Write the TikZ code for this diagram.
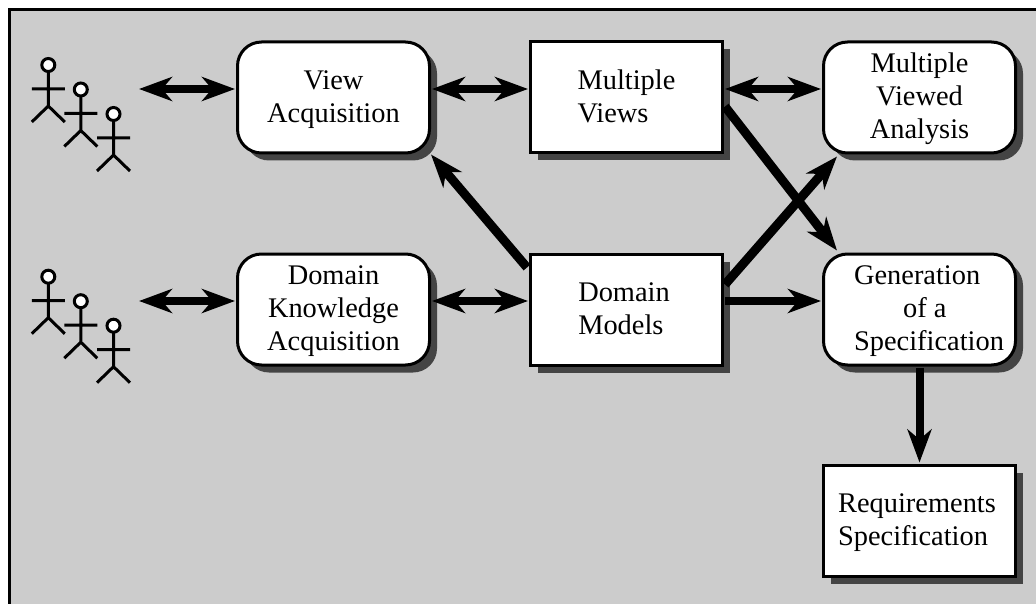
\documentclass[tikz,border=0pt]{standalone}
\usepackage{fontspec}
\setmainfont{Liberation Serif}
\usetikzlibrary{arrows.meta,calc,shadows}
\definecolor{panelgrey}{HTML}{CCCCCC}
\definecolor{shadowgrey}{HTML}{444444}
\newcommand{\topfix}[1]{\rule{0pt}{#1pt}}
\newcommand{\botfix}[1]{\rule[-#1pt]{0pt}{#1pt}}
\tikzset{
  x=1pt,y=-1pt,
  boxbase/.style={draw=black,line width=3pt,fill=white,minimum width=192pt,minimum height=111pt,inner sep=0pt,
    font=\fontsize{28.4}{33}\selectfont,
    general shadow={shadow xshift=7.5pt,shadow yshift=-7.5pt,fill=shadowgrey}},
  roundbox/.style={boxbase,rounded corners=24pt,align=center},
  squarebox/.style={boxbase,align=left},
  link/.style={line width=7.5pt,-{Stealth[length=33pt,width=24pt,inset=10pt]},shorten <=1pt,shorten >=1pt},
  duplex/.style={line width=7.5pt,{Stealth[length=33pt,width=24pt,inset=10pt]}-{Stealth[length=33pt,width=24pt,inset=10pt]},shorten <=1pt,shorten >=1pt},
  diaglink/.style={link,line width=9pt,shorten <=0pt,shorten >=0pt},
  person/.pic={
    \draw[line width=3pt,fill=white] (0,0) circle[radius=6.5];
    \draw[line width=3pt] (0,6.5) -- (0,41) (-16.5,24) -- (16.5,24) (-16.5,57) -- (0,41) -- (16.5,57);
  }
}
\begin{document}
\begin{tikzpicture}
\useasboundingbox (0,0) rectangle (1036,604);
\fill[panelgrey] (9.5,9.5) rectangle (1036,604);
\draw[line width=3.5pt] (9.5,604) -- (9.5,9.5) -- (1036,9.5);

\foreach \dy in {0,211.7}{
  \pic at (48.3,65+\dy) {person};
  \pic at (80.8,89.5+\dy) {person};
  \pic at (113.5,114+\dy) {person};
}
\coordinate (actorsA) at (138,89);
\coordinate (actorsB) at (138,301);

\node[roundbox]  (va)  at (333.5,97.5)  {\topfix{22.2}View\\Acquisition};
\node[squarebox] (mv)  at (626.5,97.5)  {Multiple\\Views\botfix{2}};
\node[roundbox]  (mva) at (919.5,97.5)  {\topfix{22.8}Multiple\\Viewed\\Analysis};
\node[roundbox]  (dka) at (333.5,309.5) {\topfix{22.8}Domain\\Knowledge\\Acquisition};
\node[squarebox] (dm)  at (626.5,309.5) {Domain\hspace*{5pt}\\Models\botfix{1}};
\node[roundbox,align=left] (gen) at (919.5,309.5) {\topfix{22.8}\hspace*{19pt}Generation\\\hspace*{68pt}of a\\\hspace*{19pt}Specification};
\node[squarebox] (req) at (919.5,520.5) {\topfix{23.4}Requirements\hspace*{5pt}\\Specification};

\draw[duplex] (actorsA) -- ($(va.west)+(0,-8.5)$);
\draw[duplex] (actorsB) -- ($(dka.west)+(0,-8.5)$);
\draw[duplex] ($(va.east)+(0,-8.5)$) -- ($(mv.west)+(0,-8.5)$);
\draw[duplex] ($(mv.east)+(0,-8.5)$) -- ($(mva.west)+(0,-8.5)$);
\draw[duplex] ($(dka.east)+(0,-8.5)$) -- ($(dm.west)+(0,-8.5)$);
\draw[link] ($(dm.east)+(0,-8.5)$) -- ($(gen.west)+(0,-8.5)$);
\draw[link,line width=8pt] (gen.south) -- (req.north);
\draw[diaglink] ($(dm.north west)+(-2,15)$) -- (va.south east);
\draw[diaglink] ($(mv.east)+(1,9)$) -- ($(gen.north west)+(15,-2)$);
\draw[diaglink] ($(dm.east)+(1,-25)$) -- ($(mva.south west)+(15,2)$);
\end{tikzpicture}
\end{document}
